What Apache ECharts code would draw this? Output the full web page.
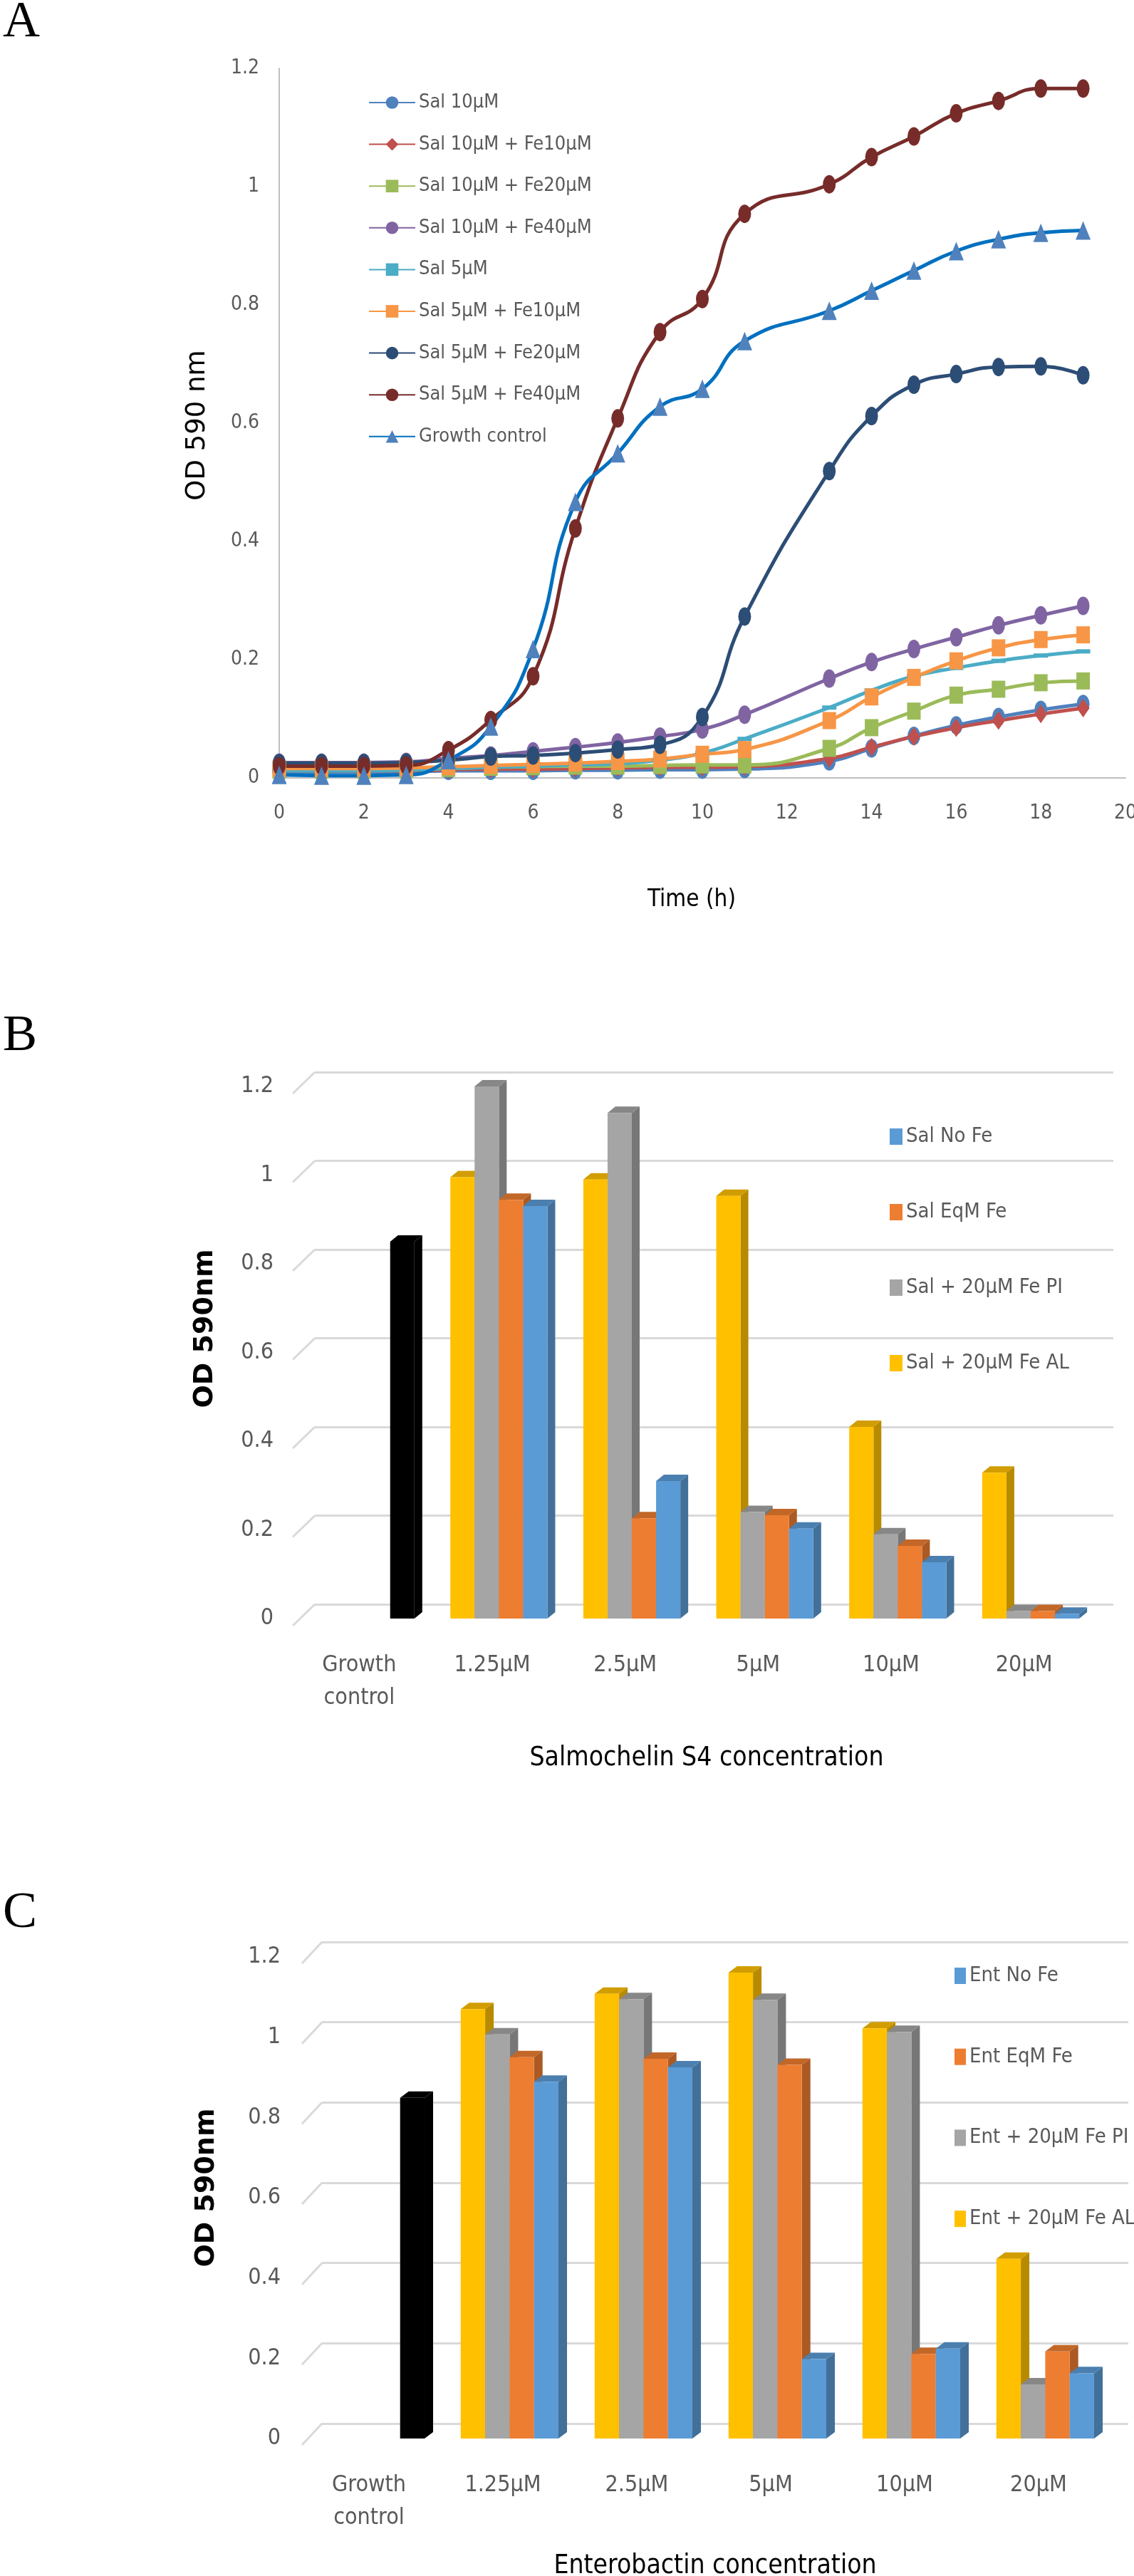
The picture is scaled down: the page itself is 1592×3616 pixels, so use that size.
<!DOCTYPE html>
<html>
<head>
<meta charset="utf-8">
<title>OD 590 nm growth and siderophore panels</title>
<script src="https://cdn.jsdelivr.net/npm/echarts@6/dist/echarts.min.js"></script>
<style>
  html, body { margin: 0; padding: 0; background: #ffffff; }
  #main { width: 1592px; height: 3616px; }
</style>
</head>
<body>
<div id="main"></div>
<script>
// ---- panel A: growth curves (OD 590 nm vs time) ----
var hours = [0, 1, 2, 3, 4, 5, 6, 7, 8, 9, 10, 11, 13, 14, 15, 16, 17, 18, 19];
var sal10 = [0.010, 0.010, 0.010, 0.010, 0.012, 0.012, 0.012, 0.013, 0.013, 0.014, 0.014, 0.015, 0.028, 0.050, 0.071, 0.089, 0.103, 0.115, 0.125];
var sal10Fe10 = [0.012, 0.012, 0.012, 0.012, 0.014, 0.015, 0.015, 0.016, 0.017, 0.018, 0.018, 0.019, 0.033, 0.052, 0.070, 0.085, 0.097, 0.108, 0.118];
var sal10Fe20 = [0.013, 0.013, 0.013, 0.014, 0.016, 0.018, 0.019, 0.020, 0.020, 0.021, 0.022, 0.022, 0.050, 0.085, 0.113, 0.140, 0.150, 0.161, 0.164];
var sal10Fe40 = [0.026, 0.026, 0.026, 0.027, 0.033, 0.038, 0.045, 0.052, 0.060, 0.070, 0.082, 0.107, 0.168, 0.196, 0.218, 0.238, 0.258, 0.275, 0.291];
var sal5 = [0.012, 0.012, 0.012, 0.013, 0.016, 0.018, 0.020, 0.022, 0.024, 0.030, 0.042, 0.066, 0.119, 0.148, 0.172, 0.186, 0.198, 0.207, 0.214];
var sal5Fe10 = [0.016, 0.016, 0.016, 0.017, 0.019, 0.021, 0.023, 0.025, 0.028, 0.032, 0.040, 0.048, 0.097, 0.137, 0.170, 0.198, 0.220, 0.234, 0.242];
var sal5Fe20 = [0.025, 0.025, 0.025, 0.026, 0.030, 0.036, 0.038, 0.042, 0.048, 0.056, 0.103, 0.273, 0.519, 0.612, 0.665, 0.683, 0.695, 0.696, 0.681];
var sal5Fe40 = [0.020, 0.020, 0.020, 0.021, 0.047, 0.098, 0.172, 0.422, 0.608, 0.754, 0.810, 0.954, 1.004, 1.050, 1.085, 1.124, 1.145, 1.166, 1.166];
var growthCtrl = [0.005, 0.004, 0.004, 0.005, 0.030, 0.087, 0.218, 0.467, 0.549, 0.628, 0.658, 0.739, 0.790, 0.824, 0.858, 0.891, 0.911, 0.922, 0.926];

// ---- panels B and C: OD 590 nm per concentration ----
var concCats = ['Growth\ncontrol', '1.25μM', '2.5μM', '5μM', '10μM', '20μM'];
// "No Fe" series carries the growth control value in its first slot (drawn black)
var salNoFe = [0.85, 0.93, 0.31, 0.203, 0.127, 0.011];
var salEqFe = [0.944, 0.226, 0.233, 0.164, 0.017];
var salFePI = [1.20, 1.14, 0.24, 0.19, 0.017];
var salFeAL = [0.995, 0.99, 0.953, 0.432, 0.329];

var entNoFe = [0.849, 0.889, 0.925, 0.198, 0.224, 0.163];
var entEqFe = [0.95, 0.946, 0.931, 0.211, 0.217];
var entFePI = [1.007, 1.095, 1.093, 1.013, 0.135];
var entFeAL = [1.07, 1.108, 1.161, 1.022, 0.448];

var odTicks = [0, 0.2, 0.4, 0.6, 0.8, 1, 1.2];

var NARROW = "'Liberation Sans Narrow', 'DejaVu Sans Condensed', 'Liberation Sans', sans-serif";
var GREY_TEXT = '#595959';

function shade(hex, f) {
  var n = parseInt(hex.replace('#', ''), 16);
  var r = Math.round(((n >> 16) & 255) * f);
  var g = Math.round(((n >> 8) & 255) * f);
  var b = Math.round((n & 255) * f);
  return 'rgb(' + r + ',' + g + ',' + b + ')';
}

function curve(name, values, color, symbol, size, markerColor) {
  return {
    name: name,
    type: 'line',
    xAxisIndex: 0,
    yAxisIndex: 0,
    data: hours.map(function (h, i) { return [h, values[i]]; }),
    smooth: true,
    symbol: symbol,
    symbolSize: size,
    lineStyle: { color: color, width: 5 },
    itemStyle: { color: markerColor || color }
  };
}

// pseudo 3D column: front face, top and right side, placed in one of 4 slots
function bar3d(slot, dx, dy) {
  return function (params, api) {
    var cat = api.value(0);
    var v = api.value(1);
    var band = api.size([1, 0])[0];
    var group = band * 0.73;
    var bw = group / 4;
    var base = api.coord([cat, 0]);
    var top = api.coord([cat, v]);
    var x0 = base[0] - group / 2 + band * 0.05 + slot * bw;
    var x1 = x0 + bw;
    var yT = top[1], yB = base[1];
    var color = api.visual('color');
    return {
      type: 'group',
      children: [
        { type: 'polygon', shape: { points: [[x1, yT], [x1 + dx, yT - dy], [x1 + dx, yB - dy], [x1, yB]] }, style: { fill: shade(color, 0.72) } },
        { type: 'polygon', shape: { points: [[x0, yT], [x1, yT], [x1 + dx, yT - dy], [x0 + dx, yT - dy]] }, style: { fill: shade(color, 0.82) } },
        { type: 'rect', shape: { x: x0, y: yT, width: bw, height: yB - yT }, style: { fill: color } }
      ]
    };
  };
}

function wallDiagonal(dx, dy) {
  return function (params, api) {
    var p = api.coord([0, api.value(1)]);
    return {
      type: 'line',
      shape: { x1: p[0] - dx, y1: p[1] + dy, x2: p[0], y2: p[1] },
      style: { stroke: '#d9d9d9', lineWidth: 3 }
    };
  };
}

function columns(name, values, slot, color, xi, yi, dx, dy, firstIsControl) {
  var data = values.map(function (v, i) {
    if (firstIsControl) {
      return i === 0 ? { value: [0, v], itemStyle: { color: '#000000' } } : [i, v];
    }
    return [i + 1, v];
  });
  return {
    name: name,
    type: 'custom',
    xAxisIndex: xi,
    yAxisIndex: yi,
    itemStyle: { color: color },
    encode: { x: 0, y: 1 },
    renderItem: bar3d(slot, dx, dy),
    data: data,
    z: 3
  };
}

function frontAxes(gridIndex, labelMargin) {
  return {
    x: {
      type: 'category', gridIndex: gridIndex, data: concCats,
      axisLine: { show: false }, axisTick: { show: false },
      axisLabel: { margin: 43, fontFamily: NARROW, fontSize: 32, lineHeight: 46, color: GREY_TEXT }
    },
    y: {
      type: 'value', gridIndex: gridIndex, min: 0, max: 1.2, interval: 0.2,
      axisLine: { show: false }, axisTick: { show: false }, splitLine: { show: false },
      axisLabel: { margin: labelMargin, fontFamily: NARROW, fontSize: 32, color: GREY_TEXT, padding: [20, 0, 0, 0] }
    }
  };
}

function backAxes(gridIndex) {
  return {
    x: { type: 'value', gridIndex: gridIndex, min: 0, max: 1, show: false },
    y: {
      type: 'value', gridIndex: gridIndex, min: 0, max: 1.2, interval: 0.2,
      axisLine: { show: false }, axisTick: { show: false }, axisLabel: { show: false },
      splitLine: { show: true, lineStyle: { color: '#d9d9d9', width: 3 } }
    }
  };
}

var bFront = frontAxes(1, 27), bBack = backAxes(2);
var cFront = frontAxes(3, 30), cBack = backAxes(4);

var chart = echarts.init(document.getElementById('main'), null, { renderer: 'canvas' });

chart.setOption({
  animation: false,
  backgroundColor: '#ffffff',
  textStyle: { fontFamily: NARROW },
  grid: [
    { left: 392, right: 12, top: 96, bottom: 2524, containLabel: false, outerBoundsMode: 'none' },
    { left: 411, right: 61, top: 1525, bottom: 1344, containLabel: false, outerBoundsMode: 'none' },
    { left: 442, right: 29, top: 1505, bottom: 1364, containLabel: false, outerBoundsMode: 'none' },
    { left: 424, right: 40, top: 2747, bottom: 193, containLabel: false, outerBoundsMode: 'none' },
    { left: 452, right: 8, top: 2726, bottom: 214, containLabel: false, outerBoundsMode: 'none' }
  ],
  xAxis: [
    {
      type: 'value', gridIndex: 0, min: 0, max: 20, interval: 2,
      axisLine: { show: true, lineStyle: { color: '#bfbfbf', width: 2 } },
      axisTick: { show: false }, splitLine: { show: false },
      axisLabel: { margin: 36, fontFamily: NARROW, fontSize: 28, color: GREY_TEXT }
    },
    bFront.x, bBack.x, cFront.x, cBack.x
  ],
  yAxis: [
    {
      type: 'value', gridIndex: 0, min: 0, max: 1.2, interval: 0.2,
      axisLine: { show: true, lineStyle: { color: '#bfbfbf', width: 2 } },
      axisTick: { show: false }, splitLine: { show: false },
      axisLabel: { margin: 28, fontFamily: NARROW, fontSize: 28, color: GREY_TEXT }
    },
    bFront.y, bBack.y, cFront.y, cBack.y
  ],
  legend: [
    {
      orient: 'vertical', left: 512, top: 121,
      itemWidth: 65, itemHeight: 22, itemGap: 22.6,
      textStyle: { fontFamily: NARROW, fontSize: 27, lineHeight: 36, color: GREY_TEXT },
      data: ['Sal 10μM', 'Sal 10μM + Fe10μM', 'Sal 10μM + Fe20μM', 'Sal 10μM + Fe40μM', 'Sal 5μM',
        'Sal 5μM + Fe10μM', 'Sal 5μM + Fe20μM', 'Sal 5μM + Fe40μM', 'Growth control']
    },
    {
      orient: 'vertical', left: 1244, top: 1574, icon: 'rect',
      itemWidth: 18, itemHeight: 23, itemGap: 73,
      textStyle: { fontFamily: NARROW, fontSize: 29, lineHeight: 33, color: GREY_TEXT },
      data: ['Sal No Fe', 'Sal EqM Fe', 'Sal + 20μM Fe PI', 'Sal + 20μM Fe AL']
    },
    {
      orient: 'vertical', left: 1335, top: 2752, icon: 'rect',
      itemWidth: 16, itemHeight: 23, itemGap: 80.7,
      textStyle: { fontFamily: NARROW, fontSize: 29, lineHeight: 33, color: GREY_TEXT },
      data: ['Ent No Fe', 'Ent EqM Fe', 'Ent + 20μM Fe PI', 'Ent + 20μM Fe AL']
    }
  ],
  graphic: [
    { type: 'text', x: 4, y: 32, style: { text: 'A', font: '72px "Liberation Serif", serif', fill: '#000', align: 'left', verticalAlign: 'middle', textAlign: 'left', textVerticalAlign: 'middle' } },
    { type: 'text', x: 4, y: 1455, style: { text: 'B', font: '72px "Liberation Serif", serif', fill: '#000', align: 'left', verticalAlign: 'middle', textAlign: 'left', textVerticalAlign: 'middle' } },
    { type: 'text', x: 4, y: 2686, style: { text: 'C', font: '72px "Liberation Serif", serif', fill: '#000', align: 'left', verticalAlign: 'middle', textAlign: 'left', textVerticalAlign: 'middle' } },
    { type: 'text', x: 277, y: 597, rotation: Math.PI / 2, style: { text: 'OD 590 nm', font: '37px "DejaVu Sans", sans-serif', fill: '#000', align: 'center', verticalAlign: 'middle', textAlign: 'center', textVerticalAlign: 'middle' } },
    { type: 'text', x: 971, y: 1263, style: { text: 'Time (h)', font: '33px ' + NARROW, fill: '#000', align: 'center', verticalAlign: 'middle', textAlign: 'center', textVerticalAlign: 'middle' } },
    { type: 'text', x: 288, y: 1865, rotation: Math.PI / 2, style: { text: 'OD 590nm', font: 'bold 38px "DejaVu Sans", sans-serif', fill: '#000', align: 'center', verticalAlign: 'middle', textAlign: 'center', textVerticalAlign: 'middle' } },
    { type: 'text', x: 992, y: 2468, style: { text: 'Salmochelin S4 concentration', font: '37px ' + NARROW, fill: '#000', align: 'center', verticalAlign: 'middle', textAlign: 'center', textVerticalAlign: 'middle' } },
    { type: 'text', x: 290, y: 3071, rotation: Math.PI / 2, style: { text: 'OD 590nm', font: 'bold 38px "DejaVu Sans", sans-serif', fill: '#000', align: 'center', verticalAlign: 'middle', textAlign: 'center', textVerticalAlign: 'middle' } },
    { type: 'text', x: 1004, y: 3602, style: { text: 'Enterobactin concentration', font: '37px ' + NARROW, fill: '#000', align: 'center', verticalAlign: 'middle', textAlign: 'center', textVerticalAlign: 'middle' } }
  ],
  series: [
    curve('Sal 10μM', sal10, '#4f81bd', 'circle', [18, 26]),
    curve('Sal 10μM + Fe10μM', sal10Fe10, '#c0504d', 'diamond', [18, 26]),
    curve('Sal 10μM + Fe20μM', sal10Fe20, '#9bbb59', 'rect', [19, 24]),
    curve('Sal 10μM + Fe40μM', sal10Fe40, '#8064a2', 'circle', [18, 26]),
    curve('Sal 5μM', sal5, '#4bacc6', 'rect', [20, 6]),
    curve('Sal 5μM + Fe10μM', sal5Fe10, '#f79646', 'rect', [19, 24]),
    curve('Sal 5μM + Fe20μM', sal5Fe20, '#2c4d75', 'circle', [18, 26]),
    curve('Sal 5μM + Fe40μM', sal5Fe40, '#772c2a', 'circle', [18, 26]),
    curve('Growth control', growthCtrl, '#0070c0', 'triangle', [21, 26], '#4f81bd'),

    { type: 'custom', xAxisIndex: 2, yAxisIndex: 2, renderItem: wallDiagonal(31, 30), data: odTicks.map(function (v) { return [0, v]; }), silent: true, z: 1 },
    columns('Sal + 20μM Fe AL', salFeAL, 0, '#ffc000', 1, 1, 11, 9, false),
    columns('Sal + 20μM Fe PI', salFePI, 1, '#a5a5a5', 1, 1, 11, 9, false),
    columns('Sal EqM Fe', salEqFe, 2, '#ed7d31', 1, 1, 11, 9, false),
    columns('Sal No Fe', salNoFe, 3, '#5b9bd5', 1, 1, 11, 9, true),

    { type: 'custom', xAxisIndex: 4, yAxisIndex: 4, renderItem: wallDiagonal(28, 30), data: odTicks.map(function (v) { return [0, v]; }), silent: true, z: 1 },
    columns('Ent + 20μM Fe AL', entFeAL, 0, '#ffc000', 3, 3, 12, 9, false),
    columns('Ent + 20μM Fe PI', entFePI, 1, '#a5a5a5', 3, 3, 12, 9, false),
    columns('Ent EqM Fe', entEqFe, 2, '#ed7d31', 3, 3, 12, 9, false),
    columns('Ent No Fe', entNoFe, 3, '#5b9bd5', 3, 3, 12, 9, true)
  ]
});
</script>
</body>
</html>
